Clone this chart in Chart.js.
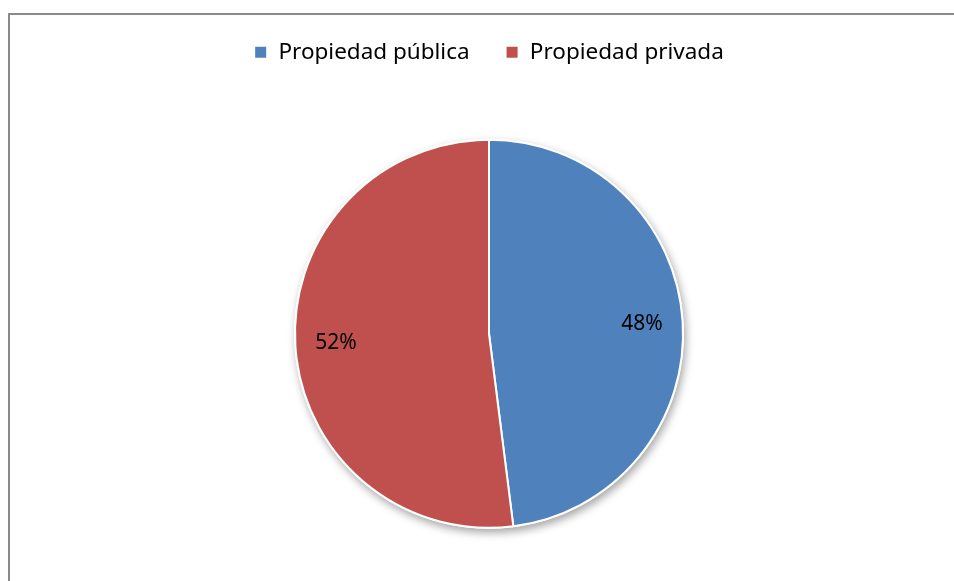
<!DOCTYPE html>
<html lang="es">
<head>
<meta charset="utf-8">
<title>Propiedad pública y privada</title>
<script src="https://cdn.jsdelivr.net/npm/chart.js@4/dist/chart.umd.min.js"></script>
<style>
  html, body { margin: 0; padding: 0; background: #ffffff; }
  #wrap { position: relative; width: 954px; height: 581px; overflow: hidden; }
  #frame {
    position: absolute; left: 8px; top: 13px; width: 1000px; height: 700px;
    border-left: 2px solid #8a8a8a; border-top: 2px solid #8a8a8a;
  }
  #chart { position: absolute; left: 0; top: 0; }
</style>
</head>
<body>
<div id="wrap">
  <div id="frame"></div>
  <!-- the plot area runs a little past the visible bottom edge -->
  <canvas id="chart" width="954" height="594"></canvas>
</div>
<script>
// Ownership split (percent)
const categories = ['Propiedad pública', 'Propiedad privada'];
const shares = [48, 52];
const sliceColors = ['#4F81BD', '#C0504D'];

const FONT = '"Noto Sans", "Open Sans", sans-serif';

// Soft drop shadow drawn once under the whole pie
const pieShadow = {
  id: 'pieShadow',
  beforeDatasetsDraw(chart) {
    const arcs = chart.getDatasetMeta(0).data;
    if (!arcs.length) return;
    const a = arcs[0];
    const ctx = chart.ctx;
    ctx.save();
    ctx.shadowColor = 'rgba(0,0,0,0.35)';
    ctx.shadowBlur = 9;
    ctx.shadowOffsetX = 2;
    ctx.shadowOffsetY = 4;
    ctx.fillStyle = '#ffffff';
    ctx.beginPath();
    ctx.arc(a.x, a.y, a.outerRadius + 1, 0, Math.PI * 2);
    ctx.fill();
    ctx.restore();
  }
};

// Percentage labels placed inside each slice
const sliceLabels = {
  id: 'sliceLabels',
  afterDatasetsDraw(chart) {
    const ctx = chart.ctx;
    const values = chart.data.datasets[0].data;
    const total = values.reduce((s, v) => s + v, 0);
    chart.getDatasetMeta(0).data.forEach((arc, i) => {
      const mid = (arc.startAngle + arc.endAngle) / 2;
      const r = arc.outerRadius * 0.79;
      const x = arc.x + Math.cos(mid) * r;
      const y = arc.y + Math.sin(mid) * r;
      ctx.save();
      ctx.font = '21px ' + FONT;
      ctx.fillStyle = '#000000';
      ctx.textAlign = 'center';
      ctx.textBaseline = 'middle';
      ctx.fillText(Math.round(values[i] / total * 100) + '%', x, y);
      ctx.restore();
    });
  }
};

new Chart(document.getElementById('chart'), {
  type: 'pie',
  data: {
    labels: categories,
    datasets: [{
      data: shares,
      backgroundColor: sliceColors,
      borderColor: '#ffffff',
      borderWidth: 2,
      hoverOffset: 0,
      radius: 194
    }]
  },
  options: {
    responsive: false,
    animation: false,
    events: [],
    layout: { padding: { top: 5, bottom: 0, left: 24, right: 0 } },
    plugins: {
      tooltip: { enabled: false },
      legend: {
        position: 'top',
        labels: {
          boxWidth: 13,
          boxHeight: 13,
          padding: 36,
          color: '#000000',
          font: { family: FONT, size: 22.5 }
        }
      }
    }
  },
  plugins: [pieShadow, sliceLabels]
});
</script>
</body>
</html>
